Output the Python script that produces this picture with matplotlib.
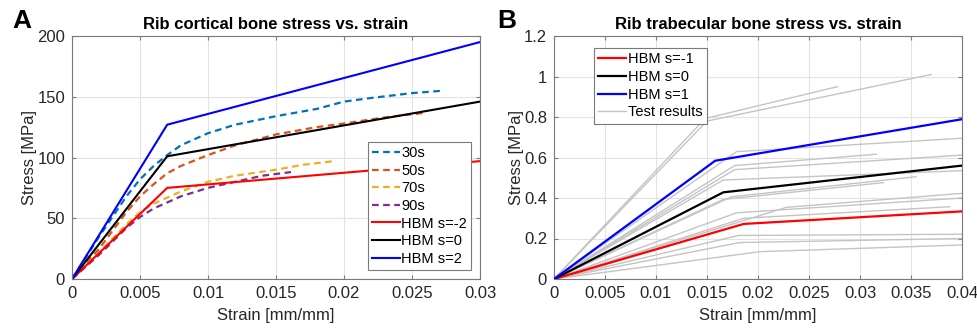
import numpy as np
import matplotlib.pyplot as plt
from matplotlib.ticker import FuncFormatter

plt.rcParams['font.family'] = ['Liberation Sans', 'DejaVu Sans']

# ---- panel A: rib cortical bone ----
s30_x = [0, 0.002, 0.004, 0.005, 0.006, 0.007, 0.008, 0.010, 0.012, 0.015, 0.018, 0.020, 0.022, 0.025, 0.0273]
s30_y = [0, 35, 68, 82, 93, 102, 110, 120, 127, 134, 140, 146, 149, 153, 155]
s50_x = [0, 0.002, 0.004, 0.005, 0.006, 0.007, 0.008, 0.010, 0.012, 0.015, 0.018, 0.020, 0.023, 0.0261]
s50_y = [0, 25, 55, 68, 78, 87, 93, 102, 110, 119, 125, 128, 133, 137]
s70_x = [0, 0.002, 0.004, 0.005, 0.006, 0.007, 0.008, 0.010, 0.012, 0.015, 0.017, 0.0192]
s70_y = [0, 22, 45, 55, 62, 67, 72, 80, 85, 90, 94, 97]
s90_x = [0, 0.002, 0.004, 0.005, 0.006, 0.007, 0.008, 0.010, 0.012, 0.014, 0.0161]
s90_y = [0, 20, 42, 51, 58, 63, 68, 75, 80, 85, 88]

hbmA_x = [0, 0.007, 0.03]
hbmA_m2 = [0, 75, 97]
hbmA_0 = [0, 101, 146]
hbmA_p2 = [0, 127, 195]

# ---- panel B: rib trabecular bone ----
hbmB_m1_x = [0, 0.0186, 0.04]
hbmB_m1_y = [0, 0.272, 0.334]
hbmB_0_x = [0, 0.0166, 0.04]
hbmB_0_y = [0, 0.428, 0.560]
hbmB_p1_x = [0, 0.0158, 0.04]
hbmB_p1_y = [0, 0.584, 0.789]

# test results: (kink strain, kink stress, end strain, end stress)
tests = [
    (0.0150, 0.780, 0.0370, 1.010),
    (0.0148, 0.792, 0.0278, 0.950),
    (0.0179, 0.629, 0.0400, 0.695),
    (0.0177, 0.560, 0.0316, 0.616),
    (0.0177, 0.540, 0.0400, 0.612),
    (0.0166, 0.489, 0.0400, 0.535),
    (0.0174, 0.406, 0.0355, 0.505),
    (0.0166, 0.393, 0.0323, 0.476),
    (0.0179, 0.327, 0.0400, 0.400),
    (0.0228, 0.354, 0.0400, 0.423),
    (0.0186, 0.300, 0.0388, 0.357),
    (0.0181, 0.215, 0.0400, 0.221),
    (0.0182, 0.180, 0.0400, 0.200),
    (0.0202, 0.135, 0.0400, 0.168),
]

fig = plt.figure(figsize=(9.77, 3.29), dpi=100)
axA = fig.add_axes([72/977, 50/329, 408/977, 243/329])
axB = fig.add_axes([554/977, 50/329, 408/977, 243/329])

fmt = FuncFormatter(lambda v, p: '%g' % round(v, 6))
box_c = '#7a7a7a'
txt_c = '#262626'
fs = 12


def style(ax):
    ax.grid(True, color='#e3e3e3', linewidth=0.8)
    ax.set_axisbelow(True)
    ax.tick_params(direction='in', top=True, right=True, length=3,
                   labelsize=fs, colors=box_c, labelcolor=txt_c, pad=5)
    for s in ax.spines.values():
        s.set_color(box_c)
        s.set_linewidth(0.8)
    ax.xaxis.set_major_formatter(fmt)
    ax.yaxis.set_major_formatter(fmt)


dash = (0, (3, 2))
axA.plot(s30_x, s30_y, color='#0072BD', lw=1.6, ls=dash, label='30s')
axA.plot(s50_x, s50_y, color='#D95319', lw=1.6, ls=dash, label='50s')
axA.plot(s70_x, s70_y, color='#EDB120', lw=1.6, ls=dash, label='70s')
axA.plot(s90_x, s90_y, color='#7E2F8E', lw=1.6, ls=dash, label='90s')
axA.plot(hbmA_x, hbmA_m2, color='#FF0000', lw=1.5, label='HBM s=-2')
axA.plot(hbmA_x, hbmA_0, color='#000000', lw=1.5, label='HBM s=0')
axA.plot(hbmA_x, hbmA_p2, color='#0000FF', lw=1.5, label='HBM s=2')
axA.set_xlim(0, 0.03)
axA.set_ylim(0, 200)
axA.set_xticks(np.arange(0, 0.0301, 0.005))
axA.set_yticks(np.arange(0, 201, 50))
style(axA)
axA.set_xlabel('Strain [mm/mm]', fontsize=fs, color=txt_c, labelpad=5)
axA.set_ylabel('Stress [MPa]', fontsize=fs, color=txt_c, labelpad=0)
axA.set_title('Rib cortical bone stress vs. strain', fontsize=12, fontweight='bold', pad=5)
legA = axA.legend(loc='lower right', fontsize=10.5, handlelength=1.9, handletextpad=0.1,
                  labelspacing=0.25, borderpad=0.3, borderaxespad=0.6, fancybox=False,
                  framealpha=1, edgecolor=box_c)
legA.get_frame().set_linewidth(0.8)

for i, (kx, ky, ex, ey) in enumerate(tests):
    axB.plot([0, kx, ex], [0, ky, ey], color='#c4c4c4', lw=1.0,
             label='Test results' if i == 0 else None, zorder=1)
axB.plot(hbmB_m1_x, hbmB_m1_y, color='#FF0000', lw=1.6, label='HBM s=-1', zorder=3)
axB.plot(hbmB_0_x, hbmB_0_y, color='#000000', lw=1.6, label='HBM s=0', zorder=3)
axB.plot(hbmB_p1_x, hbmB_p1_y, color='#0000FF', lw=1.6, label='HBM s=1', zorder=3)
axB.set_xlim(0, 0.04)
axB.set_ylim(0, 1.2)
axB.set_xticks(np.arange(0, 0.0401, 0.005))
axB.set_yticks(np.arange(0, 1.21, 0.2))
style(axB)
axB.set_xlabel('Strain [mm/mm]', fontsize=fs, color=txt_c, labelpad=5)
axB.set_ylabel('Stress [MPa]', fontsize=fs, color=txt_c, labelpad=0)
axB.set_title('Rib trabecular bone stress vs. strain', fontsize=12, fontweight='bold', pad=5)
h, l = axB.get_legend_handles_labels()
order = [1, 2, 3, 0]
legB = axB.legend([h[k] for k in order], [l[k] for k in order], loc='upper left',
                  bbox_to_anchor=(40/408, 1 - 12/243), fontsize=10.5, handlelength=1.9,
                  handletextpad=0.1, labelspacing=0.25, borderpad=0.3, borderaxespad=0,
                  fancybox=False, framealpha=1, edgecolor=box_c)
legB.get_frame().set_linewidth(0.8)

fig.text(12/977, 1 - 28/329, 'A', fontsize=19, fontweight='bold')
fig.text(497/977, 1 - 28/329, 'B', fontsize=19, fontweight='bold')

fig.savefig('out.png', dpi=100)
